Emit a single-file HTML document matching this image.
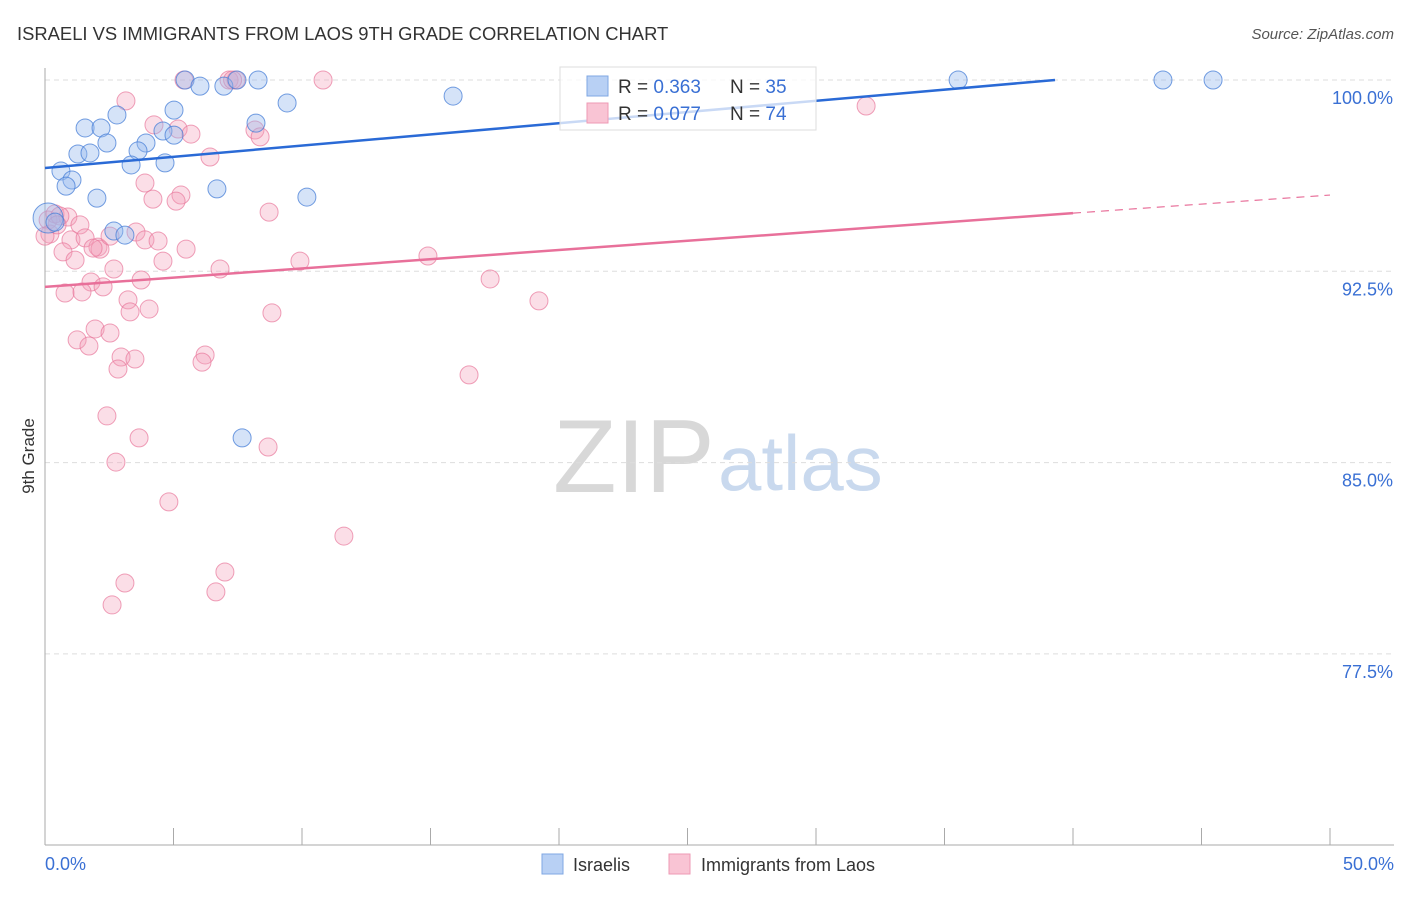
<!DOCTYPE html>
<html><head><meta charset="utf-8"><style>
body{margin:0;background:#fff;font-family:"Liberation Sans",sans-serif;}
svg text{font-family:"Liberation Sans",sans-serif;}
</style></head><body>
<svg id="chart" width="1406" height="892" xmlns="http://www.w3.org/2000/svg">
<text x="17" y="40" font-size="18.4" fill="#333">ISRAELI VS IMMIGRANTS FROM LAOS 9TH GRADE CORRELATION CHART</text>
<text x="1394" y="39" font-size="15" fill="#555" font-style="italic" text-anchor="end">Source: ZipAtlas.com</text>
<g>
<text x="553" y="492" font-size="104" fill="#d8d8d8" font-family="Liberation Serif,serif">ZIP</text>
<text x="718" y="490" font-size="78" fill="#c9d9ee">atlas</text>
</g>
<g id="grid"></g>
<g id="axes"></g>
<g id="pts"></g>
<g id="lines"></g>
<g>
<rect x="560" y="67" width="256" height="63" fill="rgba(255,255,255,0.75)" stroke="#ddd"/>
<rect x="587" y="76" width="21" height="20" fill="#b8d0f4" stroke="#7fa7e3"/>
<rect x="587" y="103" width="21" height="20" fill="#f9c4d4" stroke="#ee9ab4"/>
<text x="618" y="93" font-size="19" fill="#333">R = <tspan fill="#3a70d4">0.363</tspan></text>
<text x="730" y="93" font-size="19" fill="#333">N = <tspan fill="#3a70d4">35</tspan></text>
<text x="618" y="120" font-size="19" fill="#333">R = <tspan fill="#3a70d4">0.077</tspan></text>
<text x="730" y="120" font-size="19" fill="#333">N = <tspan fill="#3a70d4">74</tspan></text>
</g>
<text x="34" y="456" font-size="17" fill="#333" text-anchor="middle" transform="rotate(-90 34 456)">9th Grade</text>
<g>
<rect x="542" y="854" width="21" height="20" fill="#b8d0f4" stroke="#7fa7e3"/>
<text x="573" y="871" font-size="18" fill="#333">Israelis</text>
<rect x="669" y="854" width="21" height="20" fill="#f9c4d4" stroke="#ee9ab4"/>
<text x="701" y="871" font-size="18" fill="#333">Immigrants from Laos</text>
</g>
</svg>
<script>
const yTicks=[100,92.5,85,77.5];
const yTickLabels=["100.0%","92.5%","85.0%","77.5%"];
const xTickLabels=["0.0%","50.0%"];
const blueX=[5.45,6.03,6.96,7.47,8.29,5.02,9.42,15.88,35.53,43.5,45.45,2.8,1.56,2.18,2.41,3.93,4.59,5.02,3.62,1.28,1.75,0.62,1.05,0.82,3.35,4.67,6.69,2.02,10.19,8.21,2.68,3.11,7.67,0.12,0.39];
const blueY=[100,99.76,99.76,100,100,98.82,99.1,99.37,100,100,100,98.63,98.12,98.12,97.53,97.53,98.0,97.84,97.22,97.1,97.14,96.43,96.08,95.84,96.67,96.75,95.73,95.37,95.41,98.31,94.08,93.92,85.97,94.59,94.43];
const pinkX=[5.41,7.16,7.43,10.82,3.15,31.95,4.24,5.18,5.68,8.17,8.37,6.42,3.89,5.29,4.2,5.1,8.72,0.12,0.39,0.89,1.36,0.19,1.01,1.56,2.06,2.14,1.87,2.53,3.54,3.89,4.4,5.49,0.7,1.17,2.68,4.59,6.81,9.92,14.9,1.79,2.26,3.74,0.78,1.44,17.32,19.22,3.23,4.05,3.31,8.83,1.95,2.53,1.25,1.71,6.23,6.11,2.96,3.5,2.84,16.5,2.41,3.66,8.68,2.76,4.82,11.63,7.0,3.11,6.65,2.61,0.58,0.0,0.47,7.3];
const pinkY=[100,100,100,100,99.18,98.98,98.24,98.08,97.88,98.04,97.77,96.98,95.96,95.49,95.33,95.25,94.82,94.51,94.75,94.63,94.32,93.96,93.73,93.81,93.45,93.37,93.41,93.88,94.04,93.73,93.69,93.37,93.26,92.94,92.59,92.9,92.59,92.9,93.1,92.08,91.89,92.16,91.65,91.69,92.2,91.34,91.38,91.02,90.91,90.87,90.24,90.08,89.81,89.57,89.22,88.94,89.14,89.06,88.67,88.44,86.83,85.97,85.61,85.02,83.46,82.12,80.71,80.28,79.93,79.42,94.67,93.88,94.32,100];
const blueTrend=[[0,96.55],[39.3,100]];
const pinkTrend=[[0,91.89],[40,94.78]];
const pinkTrendExt=[[40,94.78],[50,95.49]];
const NS="http://www.w3.org/2000/svg";
const X=v=>45+v*25.7, Y=v=>80+(100-v)*25.507;
function mk(tag,attrs,parent){const e=document.createElementNS(NS,tag);for(const k in attrs)e.setAttribute(k,attrs[k]);document.getElementById(parent).appendChild(e);return e;}
yTicks.forEach((t,i)=>{
 const l=mk('line',{x1:45,x2:1394,y1:Y(t),y2:Y(t),stroke:'#ddd','stroke-dasharray':'5,4'},'grid');
 
 
 const tx=mk('text',{x:1393,y:Y(t)+24,'font-size':18,fill:'#3a70d4','text-anchor':'end'},'grid');
 tx.textContent=yTickLabels[i];
 
 
});
let a=mk('line',{x1:45,x2:45,y1:68,y2:845,stroke:'#aaa'},'axes');


a=mk('line',{x1:45,x2:1394,y1:845,y2:845,stroke:'#aaa'},'axes');


for(let i=0;i<=10;i++){const t=mk('line',{x1:X(i*5),x2:X(i*5),y1:828,y2:845,stroke:'#aaa'},'axes');
 
 }
[[0,'start',45],[50,'end',1394]].forEach((d,i)=>{const t=mk('text',{x:d[2],y:870,'font-size':18,fill:'#3a70d4','text-anchor':d[1]},'axes');t.textContent=xTickLabels[i];
 
 });
pinkX.forEach((x,i)=>{const c=mk('circle',{cx:X(x),cy:Y(pinkY[i]),r:9,fill:'rgba(244,160,186,0.35)',stroke:'rgba(232,120,155,0.7)','stroke-width':1},'pts');
 
 });
blueX.forEach((x,i)=>{const c=mk('circle',{cx:X(x),cy:Y(blueY[i]),r:i==33?15:9,fill:'rgba(150,186,238,0.4)',stroke:'rgba(70,125,215,0.75)','stroke-width':1},'pts');
 
 });
let l=mk('line',{x1:X(blueTrend[0][0]),y1:Y(blueTrend[0][1]),x2:X(blueTrend[1][0]),y2:Y(blueTrend[1][1]),stroke:'#2a6ad6','stroke-width':2.5},'lines');


l=mk('line',{x1:X(pinkTrend[0][0]),y1:Y(pinkTrend[0][1]),x2:X(pinkTrend[1][0]),y2:Y(pinkTrend[1][1]),stroke:'#e8709a','stroke-width':2.5},'lines');


l=mk('line',{x1:X(pinkTrendExt[0][0]),y1:Y(pinkTrendExt[0][1]),x2:X(pinkTrendExt[1][0]),y2:Y(pinkTrendExt[1][1]),stroke:'#e8709a','stroke-width':1.2,'stroke-dasharray':'8,6'},'lines');


</script>
</body></html>
